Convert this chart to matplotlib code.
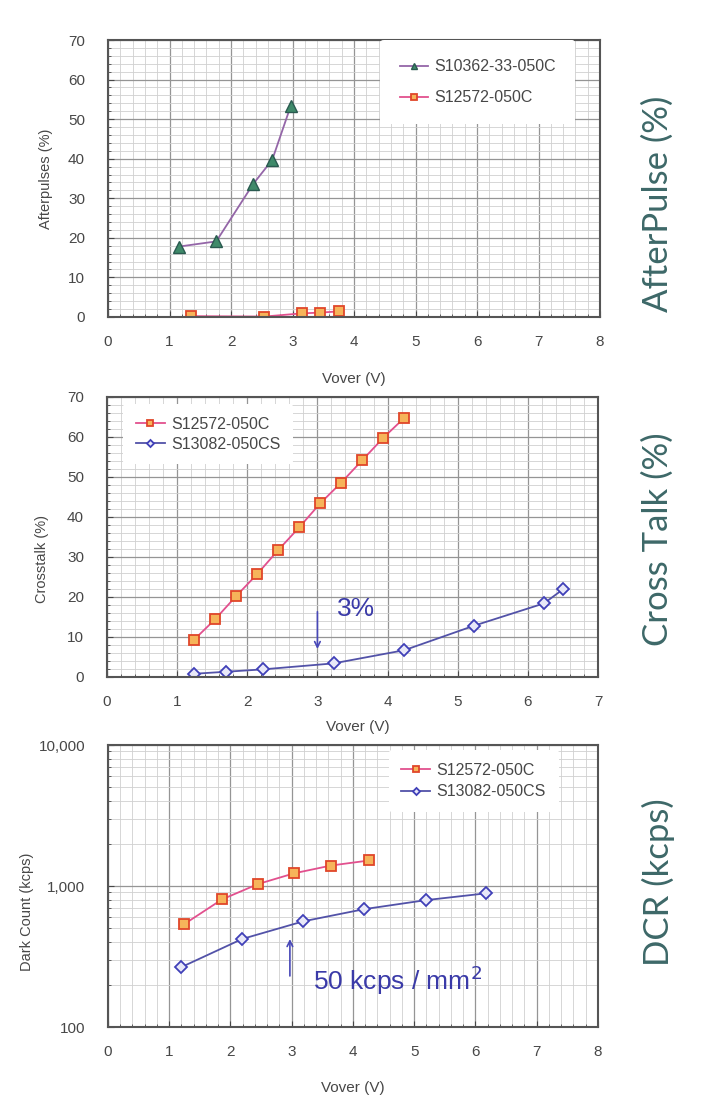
import matplotlib.pyplot as plt
from matplotlib.ticker import MultipleLocator, FixedLocator, FixedFormatter, NullFormatter, LogLocator

# afterpulse data
ap_x_s10362 = [1.16, 1.76, 2.36, 2.67, 2.97]
ap_y_s10362 = [17.8, 19.1, 33.6, 39.7, 53.3]
ap_x_s12572 = [1.35, 2.54, 3.15, 3.45, 3.75]
ap_y_s12572 = [0.2, 0.1, 0.9, 1.1, 1.4]

# crosstalk data
ct_x_s12572 = [1.24, 1.54, 1.84, 2.14, 2.44, 2.74, 3.04, 3.34, 3.64, 3.94, 4.24]
ct_y_s12572 = [9.3, 14.4, 20.2, 25.7, 31.7, 37.4, 43.4, 48.6, 54.2, 59.8, 64.8]
ct_x_s13082 = [1.24, 1.69, 2.22, 3.23, 4.24, 5.23, 6.23, 6.5]
ct_y_s13082 = [0.8, 1.3, 1.9, 3.4, 6.7, 12.8, 18.4, 21.9]

# dark count data
dc_x_s12572 = [1.24, 1.86, 2.45, 3.04, 3.64, 4.26]
dc_y_s12572 = [535, 803, 1033, 1231, 1397, 1517]
dc_x_s13082 = [1.19, 2.19, 3.19, 4.18, 5.19, 6.17]
dc_y_s13082 = [265, 421, 562, 685, 794, 887]

side_labels = ["AfterPulse (%)", "Cross Talk (%)", "DCR (kcps)"]

txt = '#474747'
plt.rcParams['font.family'] = ['Liberation Sans', 'DejaVu Sans']

fig = plt.figure(figsize=(7.04, 10.99), dpi=100)
ax1 = fig.add_axes([0.1534, 0.7116, 0.699, 0.252])
ax2 = fig.add_axes([0.152, 0.384, 0.6974, 0.2548])
ax3 = fig.add_axes([0.1534, 0.0655, 0.696, 0.2566])

sq = dict(marker='s', ms=7, mfc='#f6b45a', mec='#e0462a', mew=1.3, color='#e2508e', lw=1.3)
tri = dict(marker='^', ms=8, mfc='#3f8a6a', mec='#2a5a50', mew=1.0, color='#9466a8', lw=1.3)
dia = dict(marker='D', ms=6, mfc='#e8e8f8', mec='#4040b8', mew=1.3, color='#5252a8', lw=1.3)

leg_kw = dict(fontsize=11.5, frameon=True, facecolor='white', edgecolor='none', framealpha=1,
              handlelength=1.8, handletextpad=0.4, markerscale=0.6, borderaxespad=0,
              labelcolor=txt)


def style(ax):
    ax.grid(which='major', color='#959595', lw=0.9)
    ax.grid(which='minor', color='#d0d0d0', lw=0.6)
    ax.set_axisbelow(True)
    for s in ax.spines.values():
        s.set_color('#555555')
        s.set_linewidth(1.5)
    ax.tick_params(which='both', direction='in', colors=txt, labelsize=11, length=4)
    ax.tick_params(axis='x', which='both', pad=13)
    ax.tick_params(axis='y', which='both', pad=16.5)
    ax.tick_params(which='minor', length=2.5)


ax1.plot(ap_x_s10362, ap_y_s10362, label='S10362-33-050C', **tri)
ax1.plot(ap_x_s12572, ap_y_s12572, label='S12572-050C', **sq)
ax1.set_xlim(0, 8)
ax1.set_ylim(0, 70)
ax1.xaxis.set_major_locator(MultipleLocator(1))
ax1.xaxis.set_minor_locator(MultipleLocator(0.2))
ax1.yaxis.set_major_locator(MultipleLocator(10))
ax1.yaxis.set_minor_locator(MultipleLocator(2))
ax1.set_ylabel('Afterpulses (%)', fontsize=10.5, color=txt)
ax1.yaxis.set_label_coords(-0.112, 0.5)
ax1.set_xlabel('Vover (V)', fontsize=11, color=txt)
ax1.xaxis.set_label_coords(0.5, -0.2)
style(ax1)
ax1.legend(loc='upper right', bbox_to_anchor=(0.95, 1.0), borderpad=1.2, labelspacing=1.0, **leg_kw)

ax2.plot(ct_x_s12572, ct_y_s12572, label='S12572-050C', **sq)
ax2.plot(ct_x_s13082, ct_y_s13082, label='S13082-050CS', **dia)
ax2.set_xlim(0, 7)
ax2.set_ylim(0, 70)
ax2.xaxis.set_major_locator(MultipleLocator(1))
ax2.xaxis.set_minor_locator(MultipleLocator(0.2))
ax2.yaxis.set_major_locator(MultipleLocator(10))
ax2.yaxis.set_minor_locator(MultipleLocator(2))
ax2.set_ylabel('Crosstalk (%)', fontsize=10.5, color=txt)
ax2.yaxis.set_label_coords(-0.118, 0.42)
ax2.set_xlabel('Vover (V)', fontsize=11, color=txt)
ax2.xaxis.set_label_coords(0.51, -0.154)
style(ax2)
ax2.legend(loc='upper left', bbox_to_anchor=(0.033, 0.975), borderpad=0.8, labelspacing=0.3, **leg_kw)
ax2.annotate('', xy=(3.0, 6.3), xytext=(3.0, 17.0),
             arrowprops=dict(arrowstyle='->', color='#4848b8', lw=1.2))
ax2.text(3.28, 17.0, '3%', fontsize=19, color='#3a3aa8', va='center')

ax3.plot(dc_x_s12572, dc_y_s12572, label='S12572-050C', **sq)
ax3.plot(dc_x_s13082, dc_y_s13082, label='S13082-050CS', **dia)
ax3.set_yscale('log')
ax3.set_xlim(0, 8)
ax3.set_ylim(100, 10000)
ax3.xaxis.set_major_locator(MultipleLocator(1))
ax3.xaxis.set_minor_locator(MultipleLocator(0.2))
ax3.yaxis.set_major_locator(FixedLocator([100, 1000, 10000]))
ax3.yaxis.set_major_formatter(FixedFormatter(['100', '1,000', '10,000']))
ax3.yaxis.set_minor_locator(LogLocator(base=10, subs=range(2, 10)))
ax3.yaxis.set_minor_formatter(NullFormatter())
ax3.set_ylabel('Dark Count (kcps)', fontsize=10.5, color=txt)
ax3.yaxis.set_label_coords(-0.15, 0.41)
ax3.set_xlabel('Vover (V)', fontsize=11, color=txt)
ax3.xaxis.set_label_coords(0.5, -0.19)
style(ax3)
ax3.legend(loc='upper right', bbox_to_anchor=(0.92, 0.982), borderpad=0.8, labelspacing=0.4, **leg_kw)
ax3.annotate('', xy=(2.97, 440), xytext=(2.97, 220),
             arrowprops=dict(arrowstyle='->', color='#4848b8', lw=1.2))
ax3.text(3.35, 215, '50 kcps / mm$^2$', fontsize=19, color='#3a3aa8', va='center')

side_y = [0.815, 0.509, 0.197]
for lab, yy in zip(side_labels, side_y):
    fig.text(0.935, yy, lab, rotation=90, ha='center', va='center', fontsize=25,
             color='#3d6868', family=['Lato', 'DejaVu Sans'])

fig.savefig('out.png', dpi=100)
